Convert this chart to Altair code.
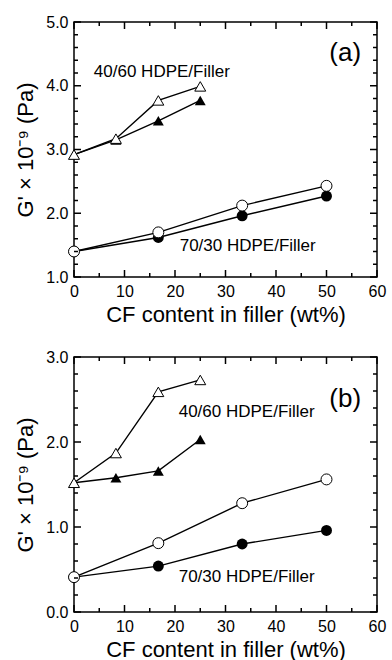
import altair as alt
import pandas as pd

# ---- data ----
x_tri = [0, 8.3, 16.7, 25]
x_cir = [0, 16.7, 33.3, 50]

a_tri_open = [2.92, 3.17, 3.77, 3.99]
a_tri_fill = [2.92, 3.15, 3.45, 3.77]
a_cir_open = [1.40, 1.70, 2.12, 2.43]
a_cir_fill = [1.40, 1.62, 1.96, 2.27]

b_tri_open = [1.52, 1.87, 2.59, 2.73]
b_tri_fill = [1.52, 1.58, 1.66, 2.03]
b_cir_open = [0.41, 0.81, 1.28, 1.56]
b_cir_fill = [0.41, 0.54, 0.80, 0.96]

x_major = [0, 10, 20, 30, 40, 50, 60]
x_minor = [5, 15, 25, 35, 45, 55]
a_y_major = [1, 2, 3, 4, 5]
b_y_major = [0, 1, 2, 3]

labels_a = ["(a)", "40/60 HDPE/Filler", "70/30 HDPE/Filler"]
labels_a_x = [53.7, 17.4, 34.4]
labels_a_y = [4.51, 4.22, 1.49]
labels_b = ["(b)", "40/60 HDPE/Filler", "70/30 HDPE/Filler"]
labels_b_x = [53.7, 34.2, 34.2]
labels_b_y = [2.51, 2.35, 0.41]
label_sizes = [26, 17, 17]

X_TITLE = "CF content in filler (wt%)"
Y_TITLE = "G' \u00d7 10\u207b\u2079 (Pa)"

W, H = 303, 255
MAJ, MIN = 7, 4
FONT = "Liberation Sans"
TICK_COLOR = "black"
TICK_W = 1.5


def minor_vals(lo, hi):
    out = []
    k = 0
    while lo + k * 0.2 <= hi + 1e-9:
        v = round(lo + k * 0.2, 4)
        if abs(v - round(v)) > 1e-6:
            out.append(v)
        k += 1
    return out


def panel(tri_o, tri_f, cir_o, cir_f, ymin, ymax, ymaj, texts, tx, ty):
    rows = []
    for name, xs, ys, kind, fill in [
        ("tf", x_tri, tri_f, "triangle-up", "filled"),
        ("cf", x_cir, cir_f, "circle", "filled"),
        ("to", x_tri, tri_o, "triangle-up", "open"),
        ("co", x_cir, cir_o, "circle", "open"),
    ]:
        for xv, yv in zip(xs, ys):
            rows.append({"x": xv, "y": yv, "series": name, "shape": kind, "fill": fill})
    df = pd.DataFrame(rows)

    xs = alt.Scale(domain=[0, 60], nice=False, zero=False)
    ys = alt.Scale(domain=[ymin, ymax], nice=False, zero=False)
    xaxis = alt.Axis(values=x_major, format="d", title=X_TITLE, ticks=False, domain=False,
                     grid=False, labelPadding=6, titlePadding=5, labelFontSize=16,
                     titleFontSize=22, labelFont=FONT, titleFont=FONT,
                     titleFontWeight="normal", labelColor="black", titleColor="black",
                     labelFlush=False)
    yaxis = alt.Axis(values=ymaj, format=".1f", title=Y_TITLE, ticks=False, domain=False,
                     grid=False, labelPadding=6, titlePadding=8, labelFontSize=16,
                     titleFontSize=22, labelFont=FONT, titleFont=FONT,
                     titleFontWeight="normal", labelColor="black", titleColor="black",
                     labelFlush=False)
    X = alt.X("x:Q", scale=xs, axis=xaxis)
    Y = alt.Y("y:Q", scale=ys, axis=yaxis)

    lines = alt.Chart(df).mark_line(color="black", strokeWidth=1.4).encode(
        x=X, y=Y, detail="series:N")
    filled = alt.Chart(df).transform_filter(alt.datum.fill == "filled").mark_point(
        filled=True, color="black", opacity=1, size=120).encode(
        x=X, y=Y, shape=alt.Shape("shape:N", scale=None))
    opened = alt.Chart(df).transform_filter(alt.datum.fill == "open").mark_point(
        filled=True, fill="white", stroke="black", strokeWidth=1, opacity=1, size=120).encode(
        x=X, y=Y, shape=alt.Shape("shape:N", scale=None))

    layers = [lines, filled, opened]

    xtick_df = {"maj": pd.DataFrame({"x": x_major}), "min": pd.DataFrame({"x": x_minor})}
    ytick_df = {"maj": pd.DataFrame({"y": ymaj}), "min": pd.DataFrame({"y": minor_vals(ymin, ymax)})}
    for key, ln in [("maj", MAJ), ("min", MIN)]:
        layers.append(alt.Chart(xtick_df[key]).mark_rule(color=TICK_COLOR, strokeWidth=TICK_W).encode(
            x=X, y=alt.value(H), y2=alt.value(H - ln)))
        layers.append(alt.Chart(xtick_df[key]).mark_rule(color=TICK_COLOR, strokeWidth=TICK_W).encode(
            x=X, y=alt.value(0), y2=alt.value(ln)))
        layers.append(alt.Chart(ytick_df[key]).mark_rule(color=TICK_COLOR, strokeWidth=TICK_W).encode(
            y=Y, x=alt.value(0), x2=alt.value(ln)))
        layers.append(alt.Chart(ytick_df[key]).mark_rule(color=TICK_COLOR, strokeWidth=TICK_W).encode(
            y=Y, x=alt.value(W), x2=alt.value(W - ln)))

    tdf = pd.DataFrame({"x": tx, "y": ty, "t": texts, "s": label_sizes})
    for i in range(len(texts)):
        layers.append(alt.Chart(tdf.iloc[[i]]).mark_text(
            font=FONT, fontSize=label_sizes[i], color="black", align="center",
            baseline="middle").encode(x=X, y=Y, text="t:N"))

    return alt.layer(*layers).properties(width=W, height=H)


pa = panel(a_tri_open, a_tri_fill, a_cir_open, a_cir_fill, 1, 5, a_y_major,
           labels_a, labels_a_x, labels_a_y)
pb = panel(b_tri_open, b_tri_fill, b_cir_open, b_cir_fill, 0, 3, b_y_major,
           labels_b, labels_b_x, labels_b_y)

chart = alt.vconcat(pa, pb, spacing=22).properties(
    padding={"left": 14, "top": 13, "right": 4, "bottom": 0},
    background="white",
).configure_view(stroke="black", strokeWidth=1.5)

chart.save("out.html", embed_options={"renderer": "svg", "actions": False})
